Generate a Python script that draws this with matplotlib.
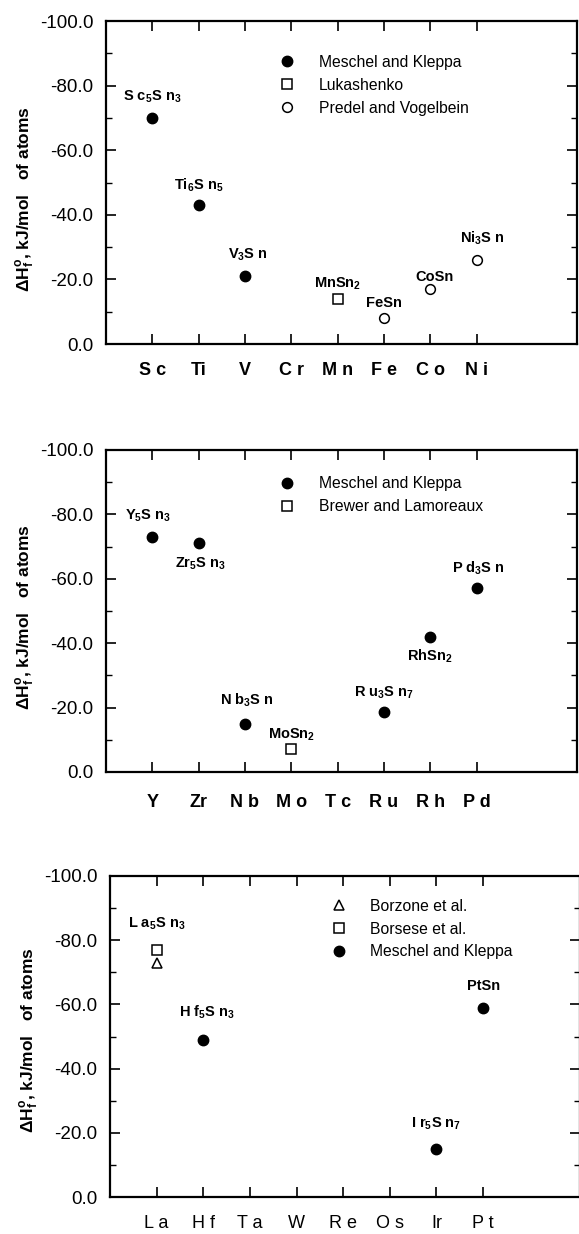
import matplotlib
matplotlib.use('Agg')
import matplotlib.pyplot as plt
from matplotlib.lines import Line2D

plt.rcParams['font.family'] = ['Liberation Sans', 'DejaVu Sans']
plt.rcParams['mathtext.fontset'] = 'custom'
plt.rcParams['mathtext.rm'] = 'Liberation Sans:bold'
plt.rcParams['mathtext.it'] = 'Liberation Sans:bold'
plt.rcParams['mathtext.bf'] = 'Liberation Sans:bold'
plt.rcParams['mathtext.default'] = 'regular'

# Panel 1: 3d transition metals
elements_1 = ['S c', 'Ti', 'V', 'C r', 'M n', 'F e', 'C o', 'N i']
compounds_1 = [r'S c$_5$S n$_3$', r'Ti$_6$S n$_5$', r'V$_3$S n', r'MnSn$_2$', 'FeSn', 'CoSn', r'Ni$_3$S n']
pos_1 = [1, 2, 3, 5, 6, 7, 8]
dh_1 = [-70, -43, -21, -14, -8, -17, -26]
source_1 = ['MK', 'MK', 'MK', 'L', 'PV', 'PV', 'PV']
legend_1 = [('MK', 'Meschel and Kleppa'), ('L', 'Lukashenko'), ('PV', 'Predel and Vogelbein')]

# Panel 2: 4d transition metals
elements_2 = ['Y', 'Zr', 'N b', 'M o', 'T c', 'R u', 'R h', 'P d']
compounds_2 = [r'Y$_5$S n$_3$', r'Zr$_5$S n$_3$', r'N b$_3$S n', r'MoSn$_2$', r'R u$_3$S n$_7$', r'RhSn$_2$', r'P d$_3$S n']
pos_2 = [1, 2, 3, 4, 6, 7, 8]
dh_2 = [-73, -71, -15, -7, -18.5, -42, -57]
source_2 = ['MK', 'MK', 'MK', 'BL', 'MK', 'MK', 'MK']
legend_2 = [('MK', 'Meschel and Kleppa'), ('BL', 'Brewer and Lamoreaux')]

# Panel 3: 5d transition metals
elements_3 = ['L a', 'H f', 'T a', 'W', 'R e', 'O s', 'Ir', 'P t']
compounds_3 = [r'L a$_5$S n$_3$', '', r'H f$_5$S n$_3$', r'I r$_5$S n$_7$', 'PtSn']
pos_3 = [1, 1, 2, 7, 8]
dh_3 = [-77, -73, -49, -15, -59]
source_3 = ['BS', 'BZ', 'MK', 'MK', 'MK']
legend_3 = [('BZ', 'Borzone et al.'), ('BS', 'Borsese et al.'), ('MK', 'Meschel and Kleppa')]

styles = {
    'MK': dict(marker='o', ms=7.5, mfc='black', mec='black', mew=1.0),
    'L': dict(marker='s', ms=7, mfc='white', mec='black', mew=1.1),
    'PV': dict(marker='o', ms=7, mfc='white', mec='black', mew=1.1),
    'BL': dict(marker='s', ms=7, mfc='white', mec='black', mew=1.1),
    'BS': dict(marker='s', ms=7, mfc='white', mec='black', mew=1.1),
    'BZ': dict(marker='^', ms=7, mfc='white', mec='black', mew=1.1),
}

W, H = 579, 1234
fig = plt.figure(figsize=(W / 100, H / 100), dpi=100)

panels = [
    # box = (left, right, top, bottom) in pixels; offs = label offsets in pixels
    dict(box=(106, 577, 21, 344), xmax=10.17, elements=elements_1, compounds=compounds_1, pos=pos_1,
         dh=dh_1, src=source_1, legend=legend_1, anchor=(0.368, 0.895), xw='bold', ylab_y=0.45,
         offs=[(0, 21), (0, 20), (3, 21), (0, 15), (0, 15), (4, 12), (6, 22)], xpad=13),
    dict(box=(106, 577, 450, 772), xmax=10.17, elements=elements_2, compounds=compounds_2, pos=pos_2,
         dh=dh_2, src=source_2, legend=legend_2, anchor=(0.368, 0.918), xw='bold', ylab_y=0.48,
         offs=[(-4, 21), (2, -20), (2, 23), (0, 15), (0, 20), (0, -20), (2, 20)], xpad=16),
    dict(box=(110, 580, 876, 1197), xmax=10.08, elements=elements_3, compounds=compounds_3, pos=pos_3,
         dh=dh_3, src=source_3, legend=legend_3, anchor=(0.47, 0.929), xw='normal', ylab_y=0.49,
         offs=[(0, 26), (0, 0), (4, 27), (0, 25), (1, 22)], xpad=13),
]

for p in panels:
    l, r, t, b = p['box']
    ax = fig.add_axes([l / W, 1 - b / H, (r - l) / W, (b - t) / H])

    for x, y, s in zip(p['pos'], p['dh'], p['src']):
        ax.plot([x], [y], linestyle='none', **styles[s])

    for x, y, name, (dx, dy) in zip(p['pos'], p['dh'], p['compounds'], p['offs']):
        if name:
            ax.annotate(name, (x, y), xytext=(dx, dy), textcoords='offset pixels',
                        ha='center', va='center', fontsize=10.5, fontweight='bold')

    ax.set_xlim(0, p['xmax'])
    ax.set_ylim(0, -100)
    ax.set_xticks(range(1, 9))
    ax.set_xticklabels(p['elements'], fontsize=13, fontweight=p['xw'])
    ax.set_yticks([-100, -80, -60, -40, -20, 0])
    ax.set_yticklabels(['-100.0', '-80.0', '-60.0', '-40.0', '-20.0', '0.0'], fontsize=13.5)
    ax.set_yticks(range(-90, 0, 20), minor=True)
    ax.tick_params(axis='both', which='both', direction='in', top=True, right=True)
    ax.tick_params(axis='y', which='major', length=7, width=1.2, pad=9)
    ax.tick_params(axis='y', which='minor', length=4.5, width=1.0)
    ax.tick_params(axis='x', which='major', length=7, width=1.2, pad=p['xpad'])
    for sp in ax.spines.values():
        sp.set_linewidth(1.6)

    ax.set_ylabel(r'$\Delta$H$^o_{f}$, kJ/mol   of atoms', fontsize=12.5, fontweight='bold')
    ax.yaxis.set_label_coords(-0.146 * 471 / (r - l), p['ylab_y'])

    handles = [Line2D([], [], linestyle='none', **styles[k]) for k, _ in p['legend']]
    labels = [lab for _, lab in p['legend']]
    ax.legend(handles, labels, loc='upper left', bbox_to_anchor=p['anchor'], frameon=False,
              fontsize=11.3, borderpad=0, borderaxespad=0, handlelength=1.0, handletextpad=1.5,
              labelspacing=0.5, numpoints=1)

fig.savefig('out.png', dpi=100)
